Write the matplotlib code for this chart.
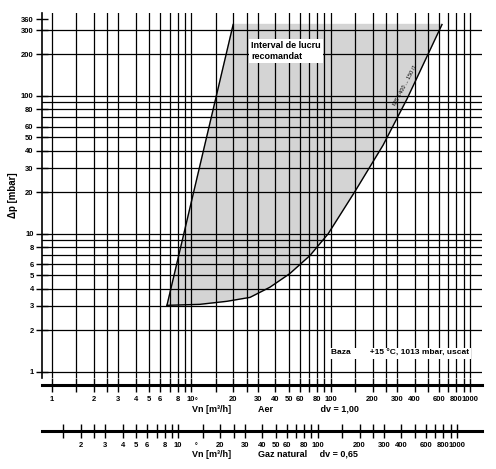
import numpy as np
import matplotlib
matplotlib.use("Agg")
import matplotlib.pyplot as plt
from matplotlib.ticker import FixedLocator, NullLocator

plt.rcParams['font.family'] = ['Liberation Sans', 'DejaVu Sans']
plt.rcParams['font.weight'] = 'bold'

# ---- data
curve_flow = [6.7, 11.5, 18.0, 26.4, 36.7, 51, 71, 96, 150, 238, 353, 630]   # m3/h air
curve_dp = [3.03, 3.08, 3.24, 3.46, 4.1, 5.15, 6.95, 10.0, 20.4, 44, 95, 330]  # mbar
left_flow = [6.7, 20.0]
left_dp = [3.03, 330]
dv_gas = 0.65

y_ticks = [1, 2, 3, 4, 5, 6, 8, 10, 20, 30, 40, 50, 60, 80, 100, 200, 300, 360]
y_grid = [1, 2, 3, 4, 5, 6, 7, 8, 9, 10, 20, 30, 40, 50, 60, 70, 80, 90, 100, 200, 300]
x_labels = [1, 2, 3, 4, 5, 6, 8, 10, 20, 30, 40, 50, 60, 80, 100, 200, 300, 400, 600, 800, 1000]
mant = [1, 1.5, 2, 2.5, 3, 4, 5, 6, 7, 8, 9]
x_grid = [m * 10 ** d for d in range(3) for m in mant] + [1000]

W, H = 496, 469
fig = plt.figure(figsize=(W / 100, H / 100), dpi=100)

def box(l, t, r, b):
    return [l / W, 1 - b / H, (r - l) / W, (b - t) / H]

xlim = (0.85, 1220)
ylim = (0.9, 400)

ax = fig.add_axes(box(42, 13, 482, 378))
ax.set_xscale('log')
ax.set_yscale('log')
ax.set_xlim(*xlim)
ax.set_ylim(*ylim)
for v in x_grid:
    ax.axvline(v, color='black', lw=0.9, zorder=1)
for v in y_grid:
    ax.axhline(v, color='black', lw=0.9, zorder=1)

# shaded working range
poly_x = left_flow + [curve_flow[-1]] + curve_flow[::-1]
poly_y = left_dp + [curve_dp[-1]] + curve_dp[::-1]
ax.fill(poly_x, poly_y, color='#d4d4d4', zorder=0)
ax.plot(left_flow, left_dp, color='black', lw=1, zorder=2)
ax.plot(curve_flow, curve_dp, color='black', lw=1, zorder=2)

for s in ['top', 'right', 'bottom']:
    ax.spines[s].set_visible(False)
ax.spines['left'].set_linewidth(1.2)
ax.xaxis.set_major_locator(NullLocator())
ax.xaxis.set_minor_locator(NullLocator())
ax.yaxis.set_major_locator(FixedLocator(y_ticks))
ax.yaxis.set_minor_locator(NullLocator())
ax.set_yticklabels([str(v) for v in y_ticks])
ax.tick_params(axis='y', direction='inout', length=8, width=1, labelsize=5.5, pad=2)
ax.set_ylabel('Δp [mbar]', fontsize=7, fontweight='bold', labelpad=2)

ax.text(27, 250, 'Interval de lucru\nrecomandat', fontsize=6.5, va='top', ha='left',
        bbox=dict(facecolor='white', edgecolor='none', pad=1.5), zorder=3)
ax.text(100, 1.32, 'Baza        +15 °C, 1013 mbar, uscat', fontsize=6, ha='left',
        bbox=dict(facecolor='white', edgecolor='none', pad=1.5), zorder=3)
ax.text(345, 120, 'MS 1400 ... 150 /1', fontsize=4, rotation=62, ha='center', va='center',
        fontweight='normal', zorder=3)

def scale_axis(top, lim, labels, ticks):
    a = fig.add_axes(box(42, top, 482, top + 1))
    a.set_xscale('log')
    a.set_xlim(*lim)
    a.set_yticks([])
    for s in ['top', 'right', 'left']:
        a.spines[s].set_visible(False)
    a.spines['bottom'].set_linewidth(2.2)
    a.xaxis.set_major_locator(FixedLocator(ticks))
    a.xaxis.set_minor_locator(NullLocator())
    a.set_xticklabels([str(v) if v in labels else '' for v in ticks])
    a.tick_params(axis='x', direction='inout', length=10, width=1, labelsize=5.5, pad=3)
    return a

def flow_title(x, y, rest):
    fig.text(x / W, 1 - y / H, 'Vn [m³/h]', fontsize=6.5, ha='left', va='center')
    fig.text((x + 2.5) / W, 1 - (y - 7) / H, '°', fontsize=5, ha='left', va='center')
    fig.text((x + 66) / W, 1 - y / H, rest, fontsize=6.5, ha='left', va='center')

scale_axis(384, xlim, x_labels, x_grid)
flow_title(192, 409, 'Aer                   dv = 1,00')

gas_lim = (xlim[0] / np.sqrt(dv_gas), xlim[1] / np.sqrt(dv_gas))
gas_ticks = [v for v in x_grid if v >= 1.5]
scale_axis(430, gas_lim, x_labels[1:], gas_ticks)
flow_title(192, 454, 'Gaz natural     dv = 0,65')

fig.savefig('out.png', dpi=100)
